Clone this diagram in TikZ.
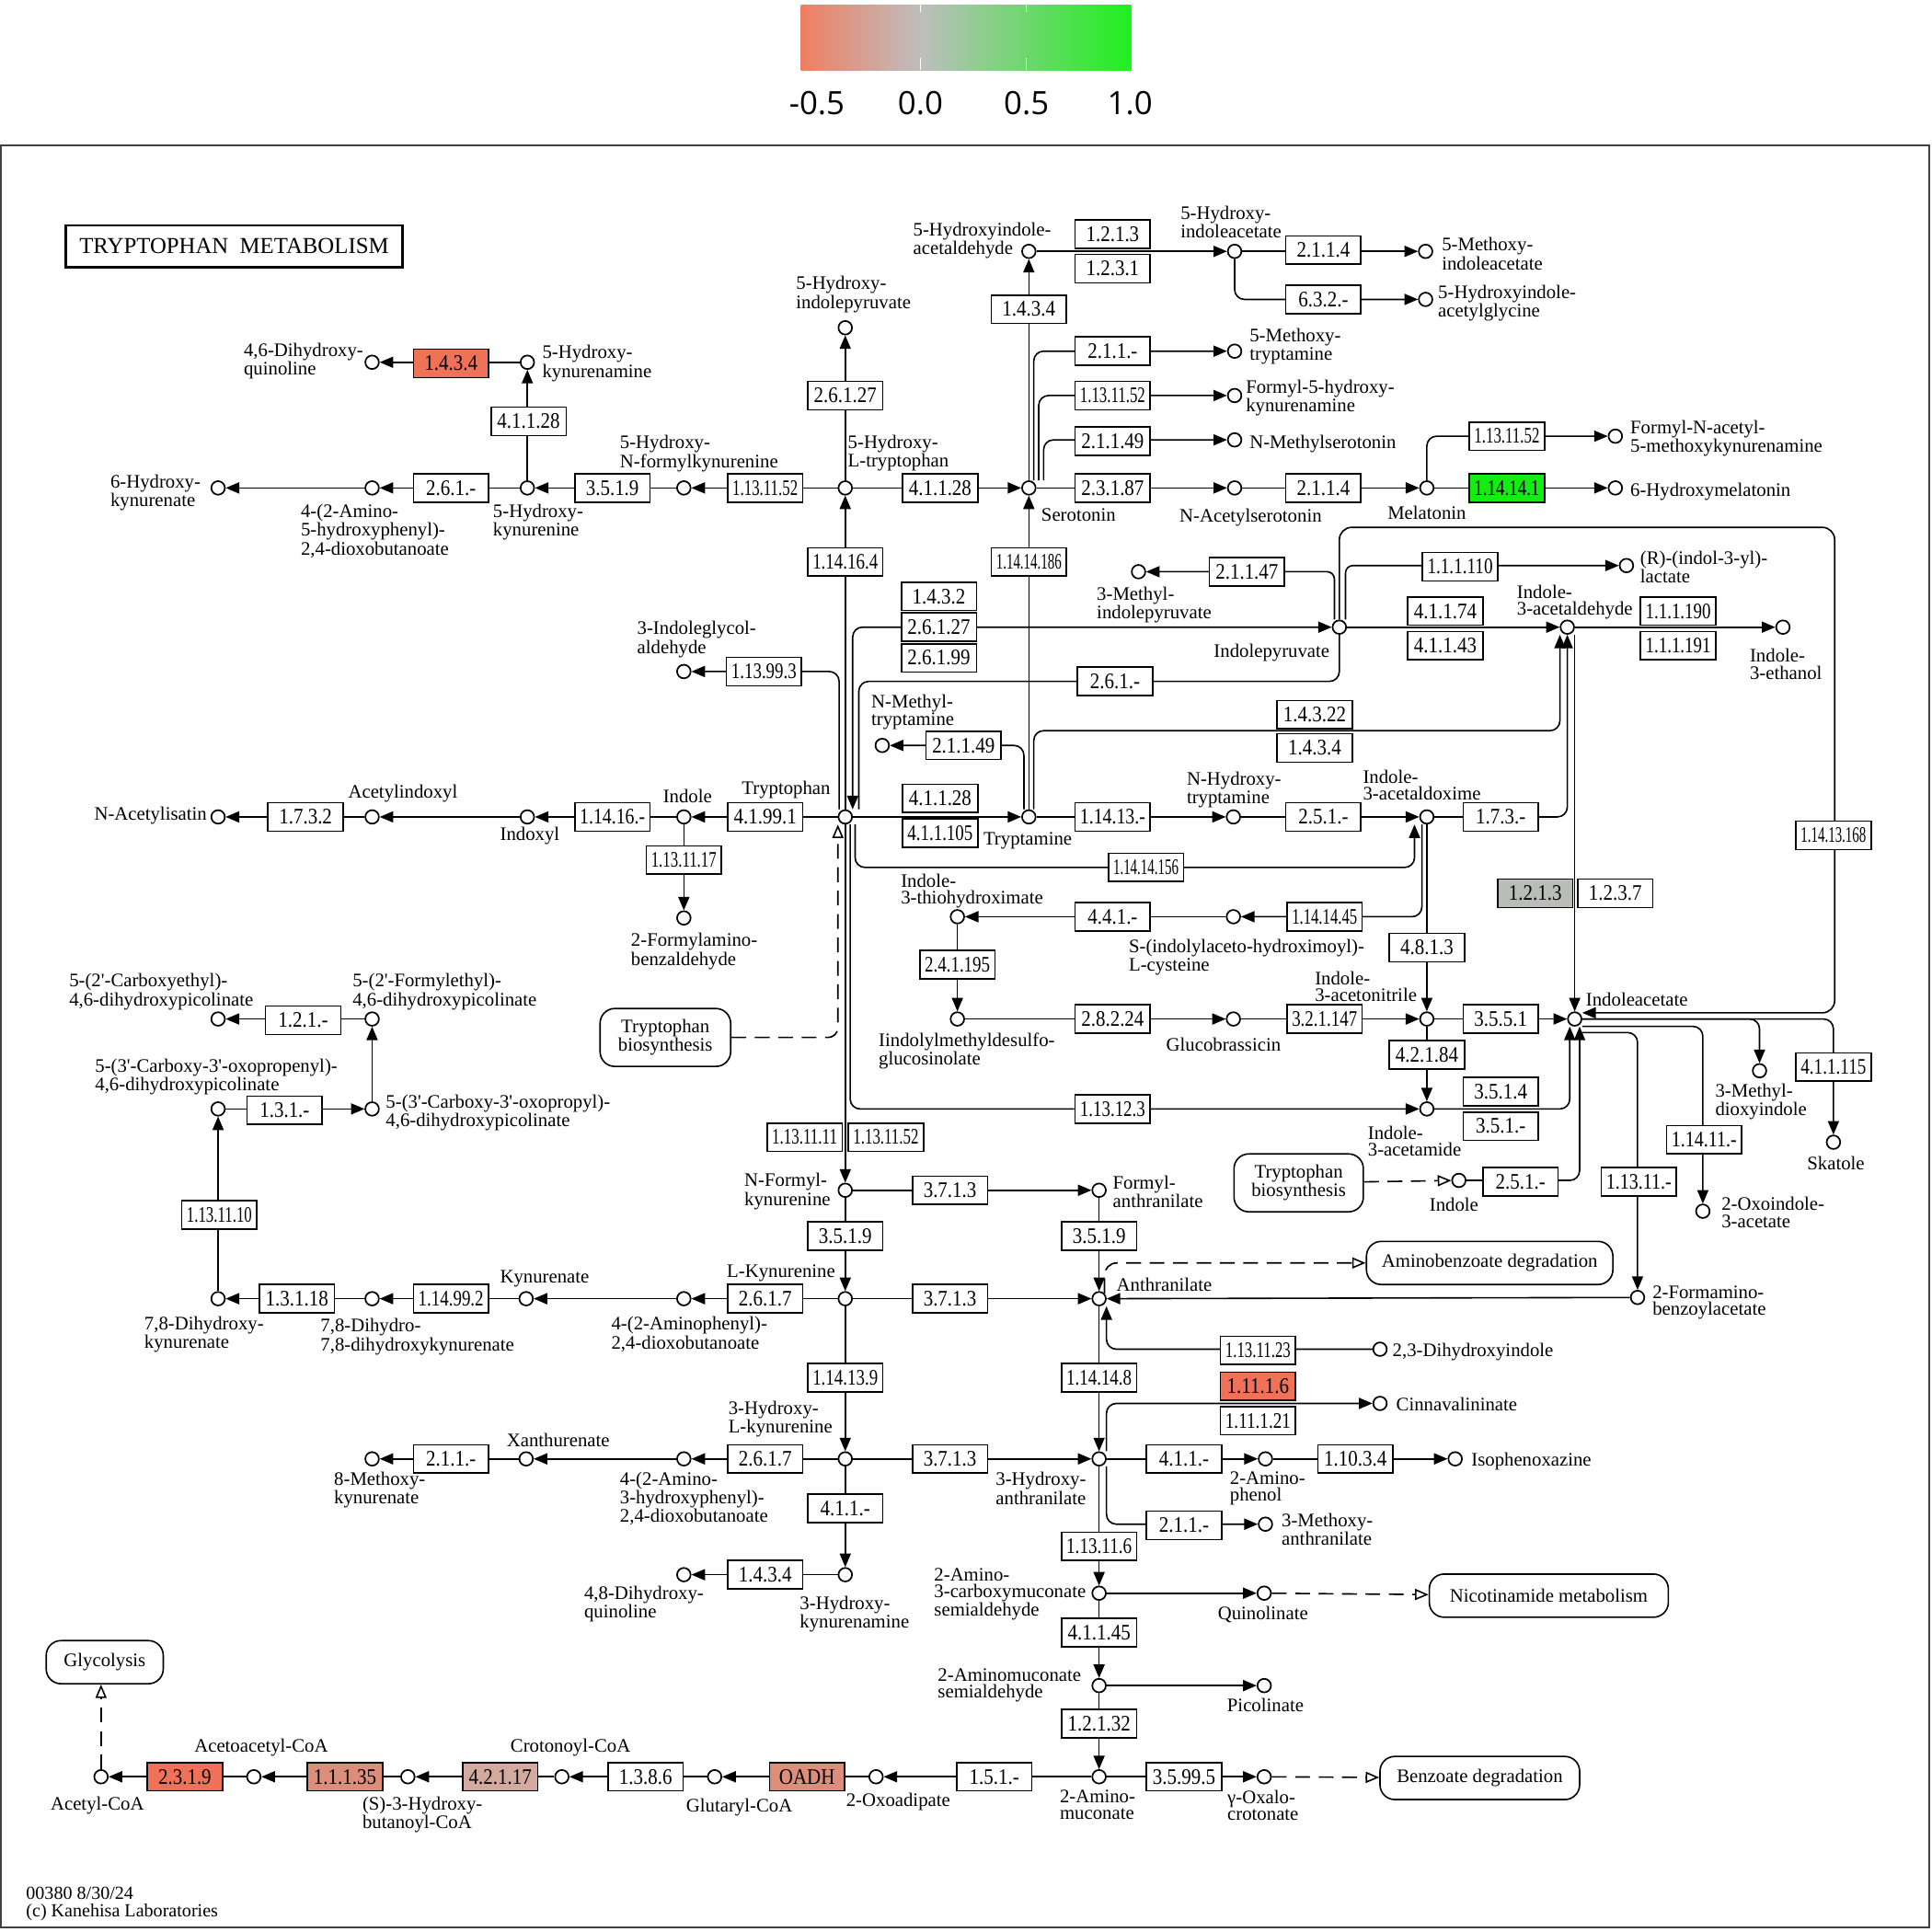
\documentclass[tikz,border=0pt]{standalone}
\usepackage{fontspec}
\usepackage{graphicx}
\usepackage{xcolor}
\usepackage{tikz}
\usetikzlibrary{arrows.meta, backgrounds, calc}
\setmainfont{Liberation Serif}
\newfontfamily\cpdfamily{Liberation Serif}
\newfontfamily\ecfamily[FakeStretch=0.87]{Liberation Serif}
\newfontfamily\legfamily{Open Sans}
\definecolor{EcRed}{HTML}{EE7158}
\definecolor{EcSalmon}{HTML}{DC8E7A}
\definecolor{EcPale}{HTML}{D3AA9D}
\definecolor{EcGreen}{HTML}{14EC14}
\definecolor{EcGrey}{HTML}{B8BDB7}
\definecolor{LegLow}{HTML}{F07E62}
\definecolor{LegMid}{HTML}{BEBEBE}
\definecolor{LegHigh}{HTML}{1EF01E}
\newsavebox\ecbox
\newcommand{\fitec}[1]{\sbox\ecbox{#1}\ifdim\wd\ecbox>53pt\resizebox{53pt}{\ht\ecbox}{\usebox\ecbox}\else\usebox\ecbox\fi}

\begin{document}
\begin{tikzpicture}[x=1pt, y=-1pt, >={Triangle[length=11pt,width=9pt]}]
    \tikzstyle{cpd} = [circle, draw, fill=white, line width=1.3pt, minimum size=11pt, inner sep=0pt]
    \tikzstyle{ec} = [rectangle, draw, fill=white, line width=1.2pt, minimum width=61pt, minimum height=23pt, inner sep=0pt, font=\ecfamily\fontsize{18}{18}\selectfont]
    \tikzstyle{lbl} = [inner sep=0pt, align=left, font=\cpdfamily\fontsize{15.5}{13.5}\selectfont]
    \tikzstyle{mapbox} = [draw, rounded corners=12pt, line width=1.2pt, fill=white, inner sep=0pt, align=center, font=\cpdfamily\fontsize{15.5}{13.5}\selectfont]
    \tikzstyle{rx} = [line width=1.2pt]
    \tikzstyle{maplink} = [line width=1.2pt, dash pattern=on 12pt off 7pt, -{Triangle[open,length=11pt,width=9pt]}]

    \useasboundingbox (0,0) rectangle (1568,1568);

    \shade[left color=LegLow, right color=LegMid] (650,4) rectangle (747,57);
    \shade[left color=LegMid, right color=LegHigh] (747,4) rectangle (918,57);
    \draw[white, line width=1pt] (747,47) -- (747,57) (833,47) -- (833,57) (747,4) -- (747,10) (833,4) -- (833,10);
    \node[font=\legfamily\fontsize{26}{26}\selectfont] (leg1) at (663,84) {-0.5};
    \node[font=\legfamily\fontsize{26}{26}\selectfont] (leg2) at (747,84) {0.0};
    \node[font=\legfamily\fontsize{26}{26}\selectfont] (leg3) at (833,84) {0.5};
    \node[font=\legfamily\fontsize{26}{26}\selectfont] (leg4) at (917,84) {1.0};
    \draw[black!75, line width=1.3pt] (1,118) rectangle (1566,1564);

    \node[draw, line width=2pt, minimum width=273pt, minimum height=34pt, font=\cpdfamily\fontsize{18.5}{18.5}\selectfont] (title) at (190,200) {TRYPTOPHAN\ \ METABOLISM};
    \node[lbl, anchor=west, font=\cpdfamily\fontsize{15}{14}\selectfont] (stamp) at (21,1545) {00380 8/30/24\\(c) Kanehisa Laboratories};

    \node[cpd] (hqui46) at (302,294) {};
    \node[cpd] (hkyam5) at (428,294) {};
    \node[cpd] (hkyna6) at (177,396) {};
    \node[cpd] (ahpdb) at (302,396) {};
    \node[cpd] (hkyn5) at (428,396) {};
    \node[cpd] (hfk5) at (555,396) {};
    \node[cpd] (htrp5) at (686,396) {};
    \node[cpd] (hipyr5) at (686,266) {};
    \node[cpd] (sero) at (835,396) {};
    \node[cpd] (hiald5) at (835,204) {};
    \node[cpd] (hiac5) at (1002,204) {};
    \node[cpd] (miac5) at (1157,204) {};
    \node[cpd] (hiag5) at (1157,243) {};
    \node[cpd] (mtam5) at (1002,285) {};
    \node[cpd] (fhky) at (1002,321) {};
    \node[cpd] (nmser) at (1002,357) {};
    \node[cpd] (nacs) at (1002,396) {};
    \node[cpd] (mela) at (1158,396) {};
    \node[cpd] (hmel6) at (1311,396) {};
    \node[cpd] (fnam) at (1311,354) {};
    \node[cpd] (trp) at (686,663) {};
    \node[cpd] (ind) at (555,663) {};
    \node[cpd] (indx) at (428,663) {};
    \node[cpd] (acind) at (302,663) {};
    \node[cpd] (naci) at (177,663) {};
    \node[cpd] (fabz) at (555,745) {};
    \node[cpd] (igald) at (555,545) {};
    \node[cpd] (mipyr) at (924,464) {};
    \node[cpd] (ipyr) at (1087,509) {};
    \node[cpd] (ilac) at (1320,459) {};
    \node[cpd] (iald) at (1272,509) {};
    \node[cpd] (ieth) at (1447,509) {};
    \node[cpd] (nmtam) at (716,605) {};
    \node[cpd] (tam) at (835,663) {};
    \node[cpd] (nhtam) at (1001,663) {};
    \node[cpd] (iaox) at (1158,663) {};
    \node[cpd] (ithx) at (777,744) {};
    \node[cpd] (sicys) at (1001,744) {};
    \node[cpd] (idsg) at (777,827) {};
    \node[cpd] (gbra) at (1001,827) {};
    \node[cpd] (ian) at (1158,827) {};
    \node[cpd] (iaa) at (1278,827) {};
    \node[cpd] (iam) at (1158,900) {};
    \node[cpd] (ind2) at (1184,958) {};
    \node[cpd] (mdoi) at (1428,869) {};
    \node[cpd] (skat) at (1488,927) {};
    \node[cpd] (oxia) at (1382,983) {};
    \node[cpd] (fbza) at (1329,1053) {};
    \node[cpd] (cepc) at (177,827) {};
    \node[cpd] (fepc) at (302,827) {};
    \node[cpd] (copep) at (177,900) {};
    \node[cpd] (copp) at (302,900) {};
    \node[cpd] (dhkyna78) at (177,1054) {};
    \node[cpd] (dhdh) at (302,1054) {};
    \node[cpd] (kyna) at (427,1054) {};
    \node[cpd] (apdb) at (555,1054) {};
    \node[cpd] (lkyn) at (686,1054) {};
    \node[cpd] (nfk) at (686,966) {};
    \node[cpd] (fant) at (892,966) {};
    \node[cpd] (anth) at (892,1054) {};
    \node[cpd] (dhi23) at (1120,1095) {};
    \node[cpd] (cinn) at (1120,1139) {};
    \node[cpd] (hkyn3) at (686,1184) {};
    \node[cpd] (ahpdb3) at (555,1184) {};
    \node[cpd] (xant) at (427,1184) {};
    \node[cpd] (mkyna8) at (302,1184) {};
    \node[cpd] (hant3) at (892,1184) {};
    \node[cpd] (aphe) at (1027,1184) {};
    \node[cpd] (isox) at (1181,1184) {};
    \node[cpd] (mant3) at (1027,1237) {};
    \node[cpd] (hkyam3) at (686,1278) {};
    \node[cpd] (dhq48) at (555,1278) {};
    \node[cpd] (acms) at (892,1293) {};
    \node[cpd] (quin) at (1026,1293) {};
    \node[cpd] (amsa) at (892,1368) {};
    \node[cpd] (pico) at (1026,1368) {};
    \node[cpd] (amuc) at (892,1442) {};
    \node[cpd] (goxc) at (1026,1442) {};
    \node[cpd] (oxad) at (711,1442) {};
    \node[cpd] (glut) at (580,1442) {};
    \node[cpd] (crot) at (456,1442) {};
    \node[cpd] (hbut) at (331,1442) {};
    \node[cpd] (acac) at (206,1442) {};
    \node[cpd] (acoa) at (82,1442) {};

    \node[ec, fill=EcRed] (e1) at (366,295) {\fitec{1.4.3.4}};
    \node[ec] (e2) at (429,342) {\fitec{4.1.1.28}};
    \node[ec] (e3) at (366,396) {\fitec{2.6.1.-}};
    \node[ec] (e4) at (497,396) {\fitec{3.5.1.9}};
    \node[ec] (e5) at (621,396) {\fitec{1.13.11.52}};
    \node[ec] (e6) at (686,321) {\fitec{2.6.1.27}};
    \node[ec] (e7) at (763,396) {\fitec{4.1.1.28}};
    \node[ec] (e8) at (686,456) {\fitec{1.14.16.4}};
    \node[ec] (e9) at (835,456) {\fitec{1.14.14.186}};
    \node[ec] (e10) at (835,251) {\fitec{1.4.3.4}};
    \node[ec] (e11) at (903,190) {\fitec{1.2.1.3}};
    \node[ec] (e12) at (903,218) {\fitec{1.2.3.1}};
    \node[ec] (e13) at (1074,203) {\fitec{2.1.1.4}};
    \node[ec] (e14) at (1074,243) {\fitec{6.3.2.-}};
    \node[ec] (e15) at (903,285) {\fitec{2.1.1.-}};
    \node[ec] (e16) at (903,321) {\fitec{1.13.11.52}};
    \node[ec] (e17) at (903,358) {\fitec{2.1.1.49}};
    \node[ec] (e18) at (903,396) {\fitec{2.3.1.87}};
    \node[ec] (e19) at (1074,396) {\fitec{2.1.1.4}};
    \node[ec, fill=EcGreen] (e20) at (1223,396) {\fitec{1.14.14.1}};
    \node[ec] (e21) at (1223,354) {\fitec{1.13.11.52}};
    \node[ec] (e22) at (1012,464) {\fitec{2.1.1.47}};
    \node[ec] (e23) at (1185,460) {\fitec{1.1.1.110}};
    \node[ec] (e24) at (762,484) {\fitec{1.4.3.2}};
    \node[ec] (e25) at (762,509) {\fitec{2.6.1.27}};
    \node[ec] (e26) at (762,534) {\fitec{2.6.1.99}};
    \node[ec] (e27) at (620,545) {\fitec{1.13.99.3}};
    \node[ec] (e28) at (905,553) {\fitec{2.6.1.-}};
    \node[ec] (e29) at (1173,496) {\fitec{4.1.1.74}};
    \node[ec] (e30) at (1173,524) {\fitec{4.1.1.43}};
    \node[ec] (e31) at (1362,496) {\fitec{1.1.1.190}};
    \node[ec] (e32) at (1362,524) {\fitec{1.1.1.191}};
    \node[ec] (e33) at (1067,580) {\fitec{1.4.3.22}};
    \node[ec] (e34) at (1067,607) {\fitec{1.4.3.4}};
    \node[ec] (e35) at (782,605) {\fitec{2.1.1.49}};
    \node[ec] (e36) at (763,648) {\fitec{4.1.1.28}};
    \node[ec] (e37) at (763,676) {\fitec{4.1.1.105}};
    \node[ec] (e38) at (621,663) {\fitec{4.1.99.1}};
    \node[ec] (e39) at (497,663) {\fitec{1.14.16.-}};
    \node[ec] (e40) at (248,663) {\fitec{1.7.3.2}};
    \node[ec] (e41) at (555,698) {\fitec{1.13.11.17}};
    \node[ec] (e42) at (903,663) {\fitec{1.14.13.-}};
    \node[ec] (e43) at (1074,663) {\fitec{2.5.1.-}};
    \node[ec] (e44) at (1218,663) {\fitec{1.7.3.-}};
    \node[ec] (e45) at (930,704) {\fitec{1.14.14.156}};
    \node[ec] (e46) at (1488,678) {\fitec{1.14.13.168}};
    \node[ec, fill=EcGrey] (e47) at (1246,725) {\fitec{1.2.1.3}};
    \node[ec] (e48) at (1311,725) {\fitec{1.2.3.7}};
    \node[ec] (e49) at (903,744) {\fitec{4.4.1.-}};
    \node[ec] (e50) at (1075,744) {\fitec{1.14.14.45}};
    \node[ec] (e51) at (1158,769) {\fitec{4.8.1.3}};
    \node[ec] (e52) at (777,783) {\fitec{2.4.1.195}};
    \node[ec] (e53) at (903,827) {\fitec{2.8.2.24}};
    \node[ec] (e54) at (1075,827) {\fitec{3.2.1.147}};
    \node[ec] (e55) at (1218,827) {\fitec{3.5.5.1}};
    \node[ec] (e56) at (1158,856) {\fitec{4.2.1.84}};
    \node[ec] (e57) at (1218,886) {\fitec{3.5.1.4}};
    \node[ec] (e58) at (1218,914) {\fitec{3.5.1.-}};
    \node[ec] (e59) at (903,900) {\fitec{1.13.12.3}};
    \node[ec] (e60) at (1234,959) {\fitec{2.5.1.-}};
    \node[ec] (e61) at (1488,866) {\fitec{4.1.1.115}};
    \node[ec] (e62) at (1383,925) {\fitec{1.14.11.-}};
    \node[ec] (e63) at (1330,959) {\fitec{1.13.11.-}};
    \node[ec] (e64) at (246,828) {\fitec{1.2.1.-}};
    \node[ec] (e65) at (231,901) {\fitec{1.3.1.-}};
    \node[ec] (e66) at (178,986) {\fitec{1.13.11.10}};
    \node[ec] (e67) at (241,1054) {\fitec{1.3.1.18}};
    \node[ec] (e68) at (366,1054) {\fitec{1.14.99.2}};
    \node[ec] (e69) at (653,923) {\fitec{1.13.11.11}};
    \node[ec] (e70) at (719,923) {\fitec{1.13.11.52}};
    \node[ec] (e71) at (771,966) {\fitec{3.7.1.3}};
    \node[ec] (e72) at (686,1003) {\fitec{3.5.1.9}};
    \node[ec] (e73) at (892,1003) {\fitec{3.5.1.9}};
    \node[ec] (e74) at (621,1054) {\fitec{2.6.1.7}};
    \node[ec] (e75) at (771,1054) {\fitec{3.7.1.3}};
    \node[ec] (e76) at (1021,1096) {\fitec{1.13.11.23}};
    \node[ec, fill=EcRed] (e77) at (1021,1125) {\fitec{1.11.1.6}};
    \node[ec] (e78) at (1021,1153) {\fitec{1.11.1.21}};
    \node[ec] (e79) at (686,1118) {\fitec{1.14.13.9}};
    \node[ec] (e80) at (892,1118) {\fitec{1.14.14.8}};
    \node[ec] (e81) at (621,1184) {\fitec{2.6.1.7}};
    \node[ec] (e82) at (771,1184) {\fitec{3.7.1.3}};
    \node[ec] (e83) at (366,1184) {\fitec{2.1.1.-}};
    \node[ec] (e84) at (961,1184) {\fitec{4.1.1.-}};
    \node[ec] (e85) at (1100,1184) {\fitec{1.10.3.4}};
    \node[ec] (e86) at (961,1238) {\fitec{2.1.1.-}};
    \node[ec] (e87) at (686,1224) {\fitec{4.1.1.-}};
    \node[ec] (e88) at (621,1278) {\fitec{1.4.3.4}};
    \node[ec] (e89) at (892,1255) {\fitec{1.13.11.6}};
    \node[ec] (e90) at (892,1325) {\fitec{4.1.1.45}};
    \node[ec] (e91) at (892,1399) {\fitec{1.2.1.32}};
    \node[ec] (e92) at (961,1442) {\fitec{3.5.99.5}};
    \node[ec] (e93) at (807,1442) {\fitec{1.5.1.-}};
    \node[ec, fill=EcSalmon] (e94) at (655,1442) {\fitec{OADH}};
    \node[ec] (e95) at (524,1442) {\fitec{1.3.8.6}};
    \node[ec, fill=EcPale] (e96) at (406,1442) {\fitec{4.2.1.17}};
    \node[ec, fill=EcSalmon] (e97) at (280,1442) {\fitec{1.1.1.35}};
    \node[ec, fill=EcRed] (e98) at (150,1442) {\fitec{2.3.1.9}};

    \node[mapbox, minimum width=106pt, minimum height=47pt] (tbs1) at (540,842) {Tryptophan\\biosynthesis};
    \node[mapbox, minimum width=105pt, minimum height=47pt] (tbs2) at (1054,960) {Tryptophan\\biosynthesis};
    \node[mapbox, minimum width=200pt, minimum height=35pt] (abz) at (1209,1025) {Aminobenzoate degradation};
    \node[mapbox, minimum width=194pt, minimum height=35pt] (nic) at (1257,1295) {Nicotinamide metabolism};
    \node[mapbox, minimum width=162pt, minimum height=35pt] (bzd) at (1201,1443) {Benzoate degradation};
    \node[mapbox, minimum width=95pt, minimum height=35pt] (gly) at (85,1349) {Glycolysis};

    \coordinate (looptr) at (1489,428);
    \coordinate (b1) at (1266,593);

    \begin{scope}[on background layer]
    \draw[rx,->] (htrp5) -- (hfk5);
    \draw[rx,->] (hfk5) -- (hkyn5);
    \draw[rx,->] (hkyn5) -- (ahpdb);
    \draw[rx,->] (ahpdb) -- (hkyna6);
    \draw[rx,->] (hkyn5) -- (hkyam5);
    \draw[rx,->] (hkyam5) -- (hqui46);
    \draw[rx,->] (htrp5) -- (hipyr5);
    \draw[rx,->] (trp) -- (htrp5);
    \draw[rx,->] (htrp5) -- (sero);
    \draw[rx,->] (tam) -- (sero);
    \draw[rx,->] (sero) -- (hiald5);
    \draw[rx,->] (hiald5) -- (hiac5);
    \draw[rx,->] (hiac5) -- (miac5);
    \draw[rx,->,rounded corners=8pt] (hiac5) |- (hiag5);
    \draw[rx,->,rounded corners=8pt] ([xshift=4pt]sero.north) |- (mtam5);
    \draw[rx,->,rounded corners=8pt] ([xshift=8pt]sero.north) |- (fhky);
    \draw[rx,->,rounded corners=8pt] ([xshift=12pt]sero.north) |- (nmser);
    \draw[rx,->] (sero) -- (nacs);
    \draw[rx,->] (nacs) -- (mela);
    \draw[rx,->] (mela) -- (hmel6);
    \draw[rx,->,rounded corners=8pt] (mela.north) |- (fnam);

    \draw[rx,->] (trp) -- (ind);
    \draw[rx,->] (ind) -- (indx);
    \draw[rx,->] (indx) -- (acind);
    \draw[rx,->] (acind) -- (naci);
    \draw[rx,->] (ind) -- (fabz);
    \draw[rx,->,rounded corners=8pt] ([xshift=-5pt]trp.north) |- (igald);
    \draw[rx,<->,rounded corners=8pt] (ipyr) -| ([xshift=6pt]trp.north);
    \draw[rx,rounded corners=8pt] ([xshift=11pt]trp.north) |- (e28) -| (ipyr.south);
    \draw[rx,->,rounded corners=6pt] ([xshift=-4pt]ipyr.north) |- (mipyr);
    \draw[rx,->,rounded corners=6pt] ([xshift=5pt]ipyr.north) |- (ilac);
    \draw[rx,->,rounded corners=10pt] (ipyr.north) |- (looptr) |- ([yshift=5pt]iaa.east);
    \draw[rx,->] (ipyr) -- (iald);
    \draw[rx,->] (iald) -- (ieth);
    \draw[rx,->] ([xshift=6pt]iald.south) -- (iaa.north);
    \draw[rx,->] (trp) -- (tam);
    \draw[rx,->,rounded corners=8pt] ([xshift=-4pt]tam.north) |- (nmtam);
    \draw[rx,->,rounded corners=8pt] ([xshift=4pt]tam.north) |- (b1) -- ([xshift=-6pt]iald.south);
    \draw[rx,->] (tam) -- (nhtam);
    \draw[rx,->] (nhtam) -- (iaox);
    \draw[rx,->,rounded corners=8pt] (iaox) -| (iald.south);
    \draw[rx,->,rounded corners=8pt] ([xshift=8pt]trp.south) |- (e45) -| ([xshift=-10pt]iaox.south);
    \draw[rx,->,rounded corners=8pt] ([xshift=-4pt]iaox.south) |- (sicys);
    \draw[rx,->] (iaox) -- (ian);
    \draw[rx,->] (sicys) -- (ithx);
    \draw[rx,->] (ithx) -- (idsg);
    \draw[rx,->] (idsg) -- (gbra);
    \draw[rx,->] (gbra) -- (ian);
    \draw[rx,->] (ian) -- (iaa);
    \draw[rx,->] (ian) -- (iam);
    \draw[rx,->,rounded corners=8pt] ([xshift=4pt]trp.south) |- (e59) -- (iam);
    \draw[rx,->,rounded corners=8pt] (iam) -| ([xshift=-4pt]iaa.south);
    \draw[maplink] (tbs2) -- (ind2);
    \draw[rx,->,rounded corners=8pt] (ind2) -| ([xshift=4pt]iaa.south);
    \draw[rx,->,rounded corners=8pt] (iaa.east) -| (skat);
    \draw[rx,->,rounded corners=8pt] (iaa.east) -| (mdoi);
    \draw[rx,->,rounded corners=8pt] ([yshift=-6pt]iaa.east) -| (oxia);
    \draw[rx,->,rounded corners=8pt] ([yshift=-11pt]iaa.east) -| (fbza);
    \draw[rx,->] (fbza) -- (anth);
    \draw[maplink,rounded corners=10pt] (anth.north east) |- (abz);
    \draw[maplink,rounded corners=8pt] (tbs1) -| ([xshift=-6pt]trp.south);

    \draw[rx,->] (trp) -- (nfk);
    \draw[rx,->] (nfk) -- (fant);
    \draw[rx,->] (nfk) -- (lkyn);
    \draw[rx,->] (fant) -- (anth);
    \draw[rx,->] (lkyn) -- (anth);
    \draw[rx,->] (lkyn) -- (apdb);
    \draw[rx,->] (apdb) -- (kyna);
    \draw[rx,->] (kyna) -- (dhdh);
    \draw[rx,->] (dhdh) -- (dhkyna78);
    \draw[rx,->] (dhkyna78) -- (copep);
    \draw[rx,->] (copep) -- (copp);
    \draw[rx,->] (copp) -- (fepc);
    \draw[rx,->] (fepc) -- (cepc);
    \draw[rx,->] (lkyn) -- (hkyn3);
    \draw[rx,->] (anth) -- (hant3);
    \draw[rx,->,rounded corners=8pt] (dhi23) -| ([xshift=6pt]anth.south);
    \draw[rx,->,rounded corners=8pt] ([xshift=6pt]hant3.north) |- (cinn);
    \draw[rx,->] (hkyn3) -- (hant3);
    \draw[rx,->] (hkyn3) -- (ahpdb3);
    \draw[rx,->] (ahpdb3) -- (xant);
    \draw[rx,->] (xant) -- (mkyna8);
    \draw[rx,->] (hkyn3) -- (hkyam3);
    \draw[rx,->] (hkyam3) -- (dhq48);
    \draw[rx,->] (hant3) -- (aphe);
    \draw[rx,->] (aphe) -- (isox);
    \draw[rx,->,rounded corners=8pt] ([xshift=6pt]hant3.south) |- (mant3);
    \draw[rx,->] (hant3) -- (acms);
    \draw[rx,->] (acms) -- (quin);
    \draw[maplink] (quin) -- (nic);
    \draw[rx,->] (acms) -- (amsa);
    \draw[rx,->] (amsa) -- (pico);
    \draw[rx,->] (amsa) -- (amuc);
    \draw[rx,->] (amuc) -- (goxc);
    \draw[maplink] (goxc) -- (bzd);
    \draw[rx,->] (amuc) -- (oxad);
    \draw[rx,->] (oxad) -- (glut);
    \draw[rx,->] (glut) -- (crot);
    \draw[rx,->] (crot) -- (hbut);
    \draw[rx,->] (hbut) -- (acac);
    \draw[rx,->] (acac) -- (acoa);
    \draw[maplink] (acoa) -- (acoa |- gly.south);
    \end{scope}

    \node[lbl, anchor=east] (hqui46_t) at (295,293) {4,6-Dihydroxy-\\quinoline};
    \node[lbl, anchor=west] (hkyam5_t) at (440,295) {5-Hydroxy-\\kynurenamine};
    \node[lbl, anchor=east] (hkyna6_t) at (163,400) {6-Hydroxy-\\kynurenate};
    \node[lbl, anchor=west] (ahpdb_t) at (244,431) {4-(2-Amino-\\5-hydroxyphenyl)-\\2,4-dioxobutanoate};
    \node[lbl, anchor=west] (hkyn5_t) at (400,424) {5-Hydroxy-\\kynurenine};
    \node[lbl, anchor=west] (hfk5_t) at (503,368) {5-Hydroxy-\\N-formylkynurenine};
    \node[lbl, anchor=west] (htrp5_t) at (688,368) {5-Hydroxy-\\L-tryptophan};
    \node[lbl, anchor=west] (hipyr5_t) at (646,239) {5-Hydroxy-\\indolepyruvate};
    \node[lbl, anchor=west] (sero_t) at (845,418) {Serotonin};
    \node[lbl, anchor=west] (hiald5_t) at (741,195) {5-Hydroxyindole-\\acetaldehyde};
    \node[lbl, anchor=west] (hiac5_t) at (958,180) {5-Hydroxy-\\indoleacetate};
    \node[lbl, anchor=west] (miac5_t) at (1170,206) {5-Methoxy-\\indoleacetate};
    \node[lbl, anchor=west] (hiag5_t) at (1167,246) {5-Hydroxyindole-\\acetylglycine};
    \node[lbl, anchor=west] (mtam5_t) at (1014,281) {5-Methoxy-\\tryptamine};
    \node[lbl, anchor=west] (fhky_t) at (1011,323) {Formyl-5-hydroxy-\\kynurenamine};
    \node[lbl, anchor=west] (nmser_t) at (1014,360) {N-Methylserotonin};
    \node[lbl] (nacs_t) at (1015,420) {N-Acetylserotonin};
    \node[lbl] (mela_t) at (1158,416) {Melatonin};
    \node[lbl, anchor=west] (hmel6_t) at (1323,399) {6-Hydroxymelatonin};
    \node[lbl, anchor=west] (fnam_t) at (1323,356) {Formyl-N-acetyl-\\5-methoxykynurenamine};
    \node[lbl] (trp_t) at (638,641) {Tryptophan};
    \node[lbl] (ind_t) at (558,646) {Indole};
    \node[lbl] (indx_t) at (430,678) {Indoxyl};
    \node[lbl] (acind_t) at (327,644) {Acetylindoxyl};
    \node[lbl, anchor=east] (naci_t) at (168,662) {N-Acetylisatin};
    \node[lbl, anchor=west] (fabz_t) at (512,772) {2-Formylamino-\\benzaldehyde};
    \node[lbl, anchor=west] (igald_t) at (517,519) {3-Indoleglycol-\\aldehyde};
    \node[lbl, anchor=west] (mipyr_t) at (890,491) {3-Methyl-\\indolepyruvate};
    \node[lbl, anchor=west] (ipyr_t) at (985,530) {Indolepyruvate};
    \node[lbl, anchor=west] (ilac_t) at (1331,460) {(R)-(indol-3-yl)-\\lactate};
    \node[lbl, anchor=west] (iald_t) at (1231,489) {Indole-\\3-acetaldehyde};
    \node[lbl, anchor=west] (ieth_t) at (1420,539) {Indole-\\3-ethanol};
    \node[lbl, anchor=west] (nmtam_t) at (707,578) {N-Methyl-\\tryptamine};
    \node[lbl, anchor=west] (tam_t) at (798,682) {Tryptamine};
    \node[lbl, anchor=west] (nhtam_t) at (963,641) {N-Hydroxy-\\tryptamine};
    \node[lbl, anchor=west] (iaox_t) at (1106,637) {Indole-\\3-acetaldoxime};
    \node[lbl, anchor=west] (ithx_t) at (731,723) {Indole-\\3-thiohydroximate};
    \node[lbl, anchor=west] (sicys_t) at (916,777) {S-(indolylaceto-hydroximoyl)-\\L-cysteine};
    \node[lbl, anchor=west] (idsg_t) at (713,853) {Iindolylmethyldesulfo-\\glucosinolate};
    \node[lbl] (gbra_t) at (993,848) {Glucobrassicin};
    \node[lbl, anchor=west] (ian_t) at (1067,801) {Indole-\\3-acetonitrile};
    \node[lbl, anchor=west] (iaa_t) at (1287,811) {Indoleacetate};
    \node[lbl, anchor=west] (iam_t) at (1110,926) {Indole-\\3-acetamide};
    \node[lbl] (ind2_t) at (1180,978) {Indole};
    \node[lbl, anchor=west] (mdoi_t) at (1392,894) {3-Methyl-\\dioxyindole};
    \node[lbl] (skat_t) at (1490,944) {Skatole};
    \node[lbl, anchor=west] (oxia_t) at (1397,984) {2-Oxoindole-\\3-acetate};
    \node[lbl, anchor=west] (fbza_t) at (1341,1057) {2-Formamino-\\benzoylacetate};
    \node[lbl, anchor=west] (cepc_t) at (56,805) {5-(2'-Carboxyethyl)-\\4,6-dihydroxypicolinate};
    \node[lbl, anchor=west] (fepc_t) at (286,805) {5-(2'-Formylethyl)-\\4,6-dihydroxypicolinate};
    \node[lbl, anchor=west] (copep_t) at (77,874) {5-(3'-Carboxy-3'-oxopropenyl)-\\4,6-dihydroxypicolinate};
    \node[lbl, anchor=west] (copp_t) at (313,903) {5-(3'-Carboxy-3'-oxopropyl)-\\4,6-dihydroxypicolinate};
    \node[lbl, anchor=west] (dhkyna78_t) at (117,1083) {7,8-Dihydroxy-\\kynurenate};
    \node[lbl, anchor=west] (dhdh_t) at (260,1085) {7,8-Dihydro-\\7,8-dihydroxykynurenate};
    \node[lbl] (kyna_t) at (442,1038) {Kynurenate};
    \node[lbl, anchor=west] (apdb_t) at (496,1083) {4-(2-Aminophenyl)-\\2,4-dioxobutanoate};
    \node[lbl, anchor=east] (lkyn_t) at (678,1033) {L-Kynurenine};
    \node[lbl, anchor=west] (nfk_t) at (604,967) {N-Formyl-\\kynurenine};
    \node[lbl, anchor=west] (fant_t) at (903,967) {Formyl-\\anthranilate};
    \node[lbl, anchor=west] (anth_t) at (906,1043) {Anthranilate};
    \node[lbl, anchor=west] (dhi23_t) at (1130,1097) {2,3-Dihydroxyindole};
    \node[lbl, anchor=west] (cinn_t) at (1133,1140) {Cinnavalininate};
    \node[lbl, anchor=west] (hkyn3_t) at (591,1152) {3-Hydroxy-\\L-kynurenine};
    \node[lbl, anchor=west] (ahpdb3_t) at (503,1216) {4-(2-Amino-\\3-hydroxyphenyl)-\\2,4-dioxobutanoate};
    \node[lbl] (xant_t) at (453,1169) {Xanthurenate};
    \node[lbl, anchor=west] (mkyna8_t) at (271,1209) {8-Methoxy-\\kynurenate};
    \node[lbl, anchor=west] (hant3_t) at (808,1208) {3-Hydroxy-\\anthranilate};
    \node[lbl, anchor=west] (aphe_t) at (998,1208) {2-Amino-\\phenol};
    \node[lbl, anchor=west] (isox_t) at (1194,1186) {Isophenoxazine};
    \node[lbl, anchor=west] (mant3_t) at (1040,1241) {3-Methoxy-\\anthranilate};
    \node[lbl, anchor=west] (hkyam3_t) at (649,1310) {3-Hydroxy-\\kynurenamine};
    \node[lbl, anchor=west] (dhq48_t) at (474,1302) {4,8-Dihydroxy-\\quinoline};
    \node[lbl, anchor=west] (acms_t) at (758,1294) {2-Amino-\\3-carboxymuconate\\semialdehyde};
    \node[lbl] (quin_t) at (1025,1310) {Quinolinate};
    \node[lbl, anchor=west] (amsa_t) at (761,1368) {2-Aminomuconate\\semialdehyde};
    \node[lbl] (pico_t) at (1027,1384) {Picolinate};
    \node[lbl, anchor=west] (amuc_t) at (860,1465) {2-Amino-\\muconate};
    \node[lbl, anchor=west] (goxc_t) at (996,1465) {γ-Oxalo-\\crotonate};
    \node[lbl] (oxad_t) at (729,1462) {2-Oxoadipate};
    \node[lbl] (glut_t) at (600,1467) {Glutaryl-CoA};
    \node[lbl] (crot_t) at (463,1418) {Crotonoyl-CoA};
    \node[lbl, anchor=west] (hbut_t) at (294,1473) {(S)-3-Hydroxy-\\butanoyl-CoA};
    \node[lbl] (acac_t) at (212,1418) {Acetoacetyl-CoA};
    \node[lbl] (acoa_t) at (79,1465) {Acetyl-CoA};
\end{tikzpicture}
\end{document}
